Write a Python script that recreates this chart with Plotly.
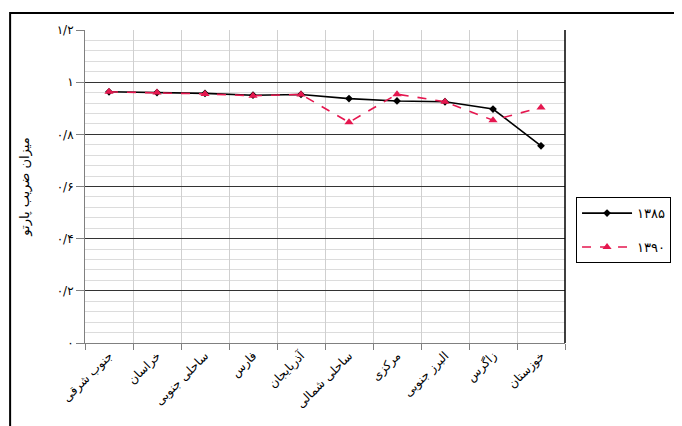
import plotly.graph_objects as go

categories = ["جنوب شرقی", "خراسان", "ساحلی جنوبی", "فارس", "آذربایجان",
              "ساحلی شمالی", "مرکزی", "البرز جنوبی", "زاگرس", "خوزستان"]
values_1385 = [0.963, 0.960, 0.957, 0.950, 0.953, 0.937, 0.928, 0.925, 0.897, 0.756]
values_1390 = [0.963, 0.960, 0.955, 0.948, 0.953, 0.846, 0.954, 0.925, 0.854, 0.903]
y_tickvals = [0, 0.2, 0.4, 0.6, 0.8, 1.0, 1.2]
y_ticktext = ["۰", "۰/۲", "۰/۴", "۰/۶", "۰/۸", "۱", "۱/۲"]
series_names = ["۱۳۸۵", "۱۳۹۰"]
y_title = "میزان ضریب پارتو"

FONT = "DejaVu Sans"

fig = go.Figure()
fig.add_trace(go.Scatter(
    x=categories, y=values_1385, name=series_names[0], mode="lines+markers",
    legendgroup="a",
    line=dict(color="black", width=1.6),
    marker=dict(symbol="diamond", size=6, color="black"),
))
fig.add_trace(go.Scatter(
    x=categories, y=values_1390, name=series_names[1], mode="lines+markers",
    legendgroup="b",
    line=dict(color="#E5174F", width=1.6, dash="dash"),
    marker=dict(symbol="triangle-up", size=8, color="#E5174F"),
))

fig.update_layout(
    width=682, height=426,
    margin=dict(l=77, r=125, t=22, b=91),
    paper_bgcolor="white", plot_bgcolor="white",
    font=dict(family=FONT, size=11, color="black"),
    showlegend=True,
    legend=dict(
        x=1.023, y=0.466, xanchor="left", yanchor="top",
        bordercolor="black", borderwidth=1, bgcolor="white",
        font=dict(family=FONT, size=13),
        tracegroupgap=14, itemwidth=50,
    ),
    xaxis=dict(
        type="category", tickson="boundaries", automargin=False,
        showgrid=True, gridcolor="#d0d0d0", gridwidth=1,
        showline=True, linecolor="#808080", linewidth=1,
        ticks="outside", ticklen=6, tickcolor="#808080",
        tickangle=-45, tickfont=dict(family=FONT, size=12),
        range=[-0.5, 9.5], mirror=False,
    ),
    yaxis=dict(
        range=[0, 1.2], tickvals=y_tickvals, ticktext=y_ticktext, automargin=False,
        showgrid=True, gridcolor="#333333", gridwidth=1,
        minor=dict(dtick=0.04, showgrid=True, gridcolor="#dcdcdc", gridwidth=1, ticks=""),
        showline=True, linecolor="#808080", linewidth=1,
        ticks="outside", ticklen=8, tickcolor="#808080",
        tickfont=dict(family=FONT, size=12),
        title=dict(text=y_title, font=dict(family=FONT, size=13), standoff=24),
        zeroline=False,
    ),
    shapes=[
        dict(type="line", xref="paper", yref="paper", x0=1, x1=1, y0=0, y1=1,
             line=dict(color="black", width=1.5)),
        dict(type="rect", xref="paper", yref="paper",
             x0=-0.156, x1=1.5, y0=-0.6, y1=1.054,
             line=dict(color="black", width=2), fillcolor="rgba(0,0,0,0)", layer="above"),
    ],
)

fig.write_html("out.html")
